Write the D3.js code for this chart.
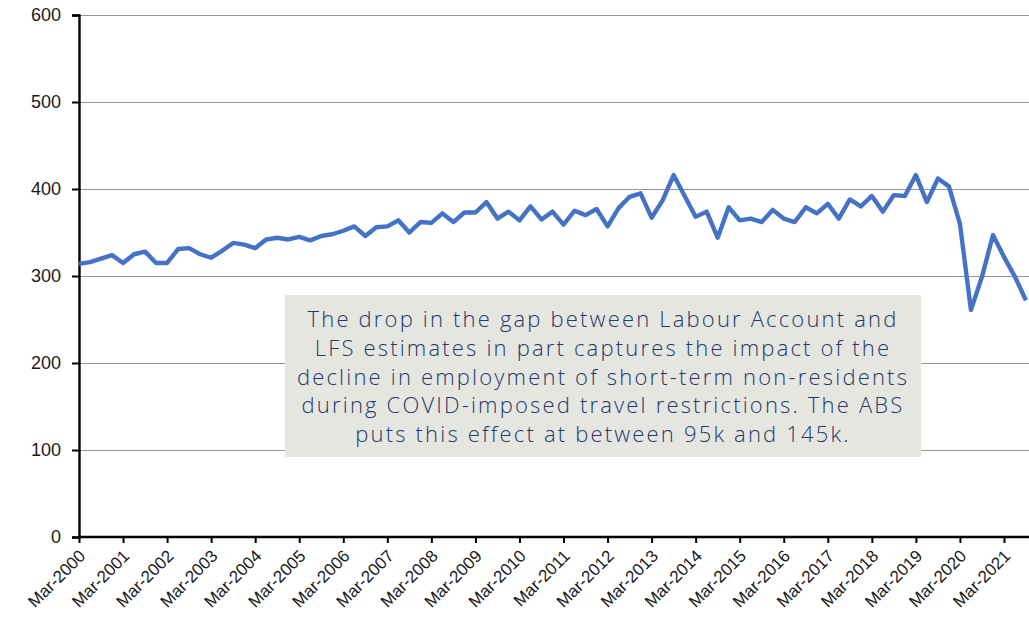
<!DOCTYPE html>
<html>
<head>
<meta charset="utf-8">
<script src="https://cdn.jsdelivr.net/npm/d3@7"></script>
<style>
  html, body { margin: 0; padding: 0; background: #ffffff; }
  svg { display: block; }
</style>
</head>
<body>
<svg id="chart" width="1029" height="624"></svg>
<script>
// ---- data ----
const years = d3.range(2000, 2022);
const months = ["Mar", "Jun", "Sep", "Dec"];
const categories = [];
years.forEach(y => months.forEach(m => categories.push(m + "-" + y)));
categories.splice(87); // Mar-2000 .. Sep-2021

const values = [
  314, 316, 320, 324, 315, 325, 328, 315, 315, 331,
  332, 325, 321, 329, 338, 336, 332, 342, 344, 342,
  345, 341, 346, 348, 352, 357, 346, 356, 357, 364,
  350, 362, 361, 372, 362, 373, 373, 385, 366, 374,
  364, 380, 365, 374, 359, 375, 370, 377, 357, 378,
  391, 395, 367, 387, 416, 392, 368, 374, 344, 379,
  364, 366, 362, 376, 366, 362, 379, 372, 383, 366,
  388, 380, 392, 374, 393, 392, 416, 385, 412, 403,
  360, 261, 299, 347, 322, 299, 272
];

const tickLabels = [
  "Mar-2000","Mar-2001","Mar-2002","Mar-2003","Mar-2004","Mar-2005",
  "Mar-2006","Mar-2007","Mar-2008","Mar-2009","Mar-2010","Mar-2011",
  "Mar-2012","Mar-2013","Mar-2014","Mar-2015","Mar-2016","Mar-2017",
  "Mar-2018","Mar-2019","Mar-2020","Mar-2021"
];
const yTicks = [0, 100, 200, 300, 400, 500, 600];

const noteLines = [
  "The drop in the gap between Labour Account and",
  "LFS estimates in part captures the impact of the",
  "decline in employment of short-term non-residents",
  "during COVID-imposed travel restrictions. The ABS",
  "puts this effect at between 95k and 145k."
];

// ---- layout ----
const svg = d3.select("#chart");
const x0 = 79, x1 = 1026, gridRight = 1029;
const yTop = 15, yBottom = 537;

const x = d3.scalePoint().domain(categories).range([x0, x1]);
const y = d3.scaleLinear().domain([0, 600]).range([yBottom, yTop]);

// gridlines
svg.append("g")
  .selectAll("line")
  .data(yTicks.filter(d => d > 0))
  .join("line")
  .attr("x1", x0).attr("x2", gridRight)
  .attr("y1", d => Math.round(y(d)) + 0.5).attr("y2", d => Math.round(y(d)) + 0.5)
  .attr("stroke", "#969696").attr("stroke-width", 1);

// y axis
const yAxis = d3.axisLeft(y).tickValues(yTicks).tickSize(7).tickPadding(11);
const gy = svg.append("g").attr("transform", `translate(${x0},0)`).call(yAxis);
gy.select(".domain").attr("stroke", "#000").attr("stroke-width", 2.4);
gy.selectAll(".tick line").attr("stroke", "#000").attr("stroke-width", 2);
gy.selectAll(".tick text")
  .attr("font-family", "'Liberation Sans', Arial, sans-serif")
  .attr("font-size", 18).attr("fill", "#1a1a1a");

// x axis
const xAxis = d3.axisBottom(x)
  .tickValues(categories.filter(c => tickLabels.includes(c)))
  .tickSize(6).tickSizeOuter(0);
const gx = svg.append("g").attr("transform", `translate(0,${yBottom})`).call(xAxis);
gx.select(".domain").attr("stroke", "#000").attr("stroke-width", 2.4)
  .attr("d", `M${x0},0H${gridRight}`);
gx.selectAll(".tick line").attr("stroke", "#000").attr("stroke-width", 2);
gx.selectAll(".tick text")
  .attr("font-family", "'Liberation Sans', Arial, sans-serif")
  .attr("font-size", 17).attr("fill", "#1a1a1a")
  .attr("text-anchor", "end")
  .attr("dy", null).attr("y", 0)
  .attr("transform", "translate(7,20) rotate(-45)");

// line
const line = d3.line().x((d, i) => x(categories[i])).y(d => y(d));
svg.append("path")
  .datum(values)
  .attr("d", line)
  .attr("fill", "none")
  .attr("stroke", "#4472C4")
  .attr("stroke-width", 4.4)
  .attr("stroke-linejoin", "round");

// annotation box
const box = { x: 285, y: 295, w: 636, h: 162 };
svg.append("rect")
  .attr("x", box.x).attr("y", box.y).attr("width", box.w).attr("height", box.h)
  .attr("fill", "#e6e6e1");

const note = svg.append("g");
const cx = box.x + box.w / 2;
const tx = note.selectAll("text").data(noteLines).join("text")
  .attr("x", cx).attr("y", (d, i) => 327 + i * 28.8)
  .attr("text-anchor", "middle")
  .attr("font-family", "'Open Sans', 'DejaVu Sans', sans-serif")
  .attr("font-weight", 300)
  .attr("font-size", 22)
  .attr("fill", "#22396a")
  .text(d => d);
// fit first line width to ~591px via letter spacing
const n0 = noteLines[0].length;
const w0 = tx.node().getComputedTextLength();
const ls = (591 - w0) / n0;
tx.attr("letter-spacing", ls);
</script>
</body>
</html>
